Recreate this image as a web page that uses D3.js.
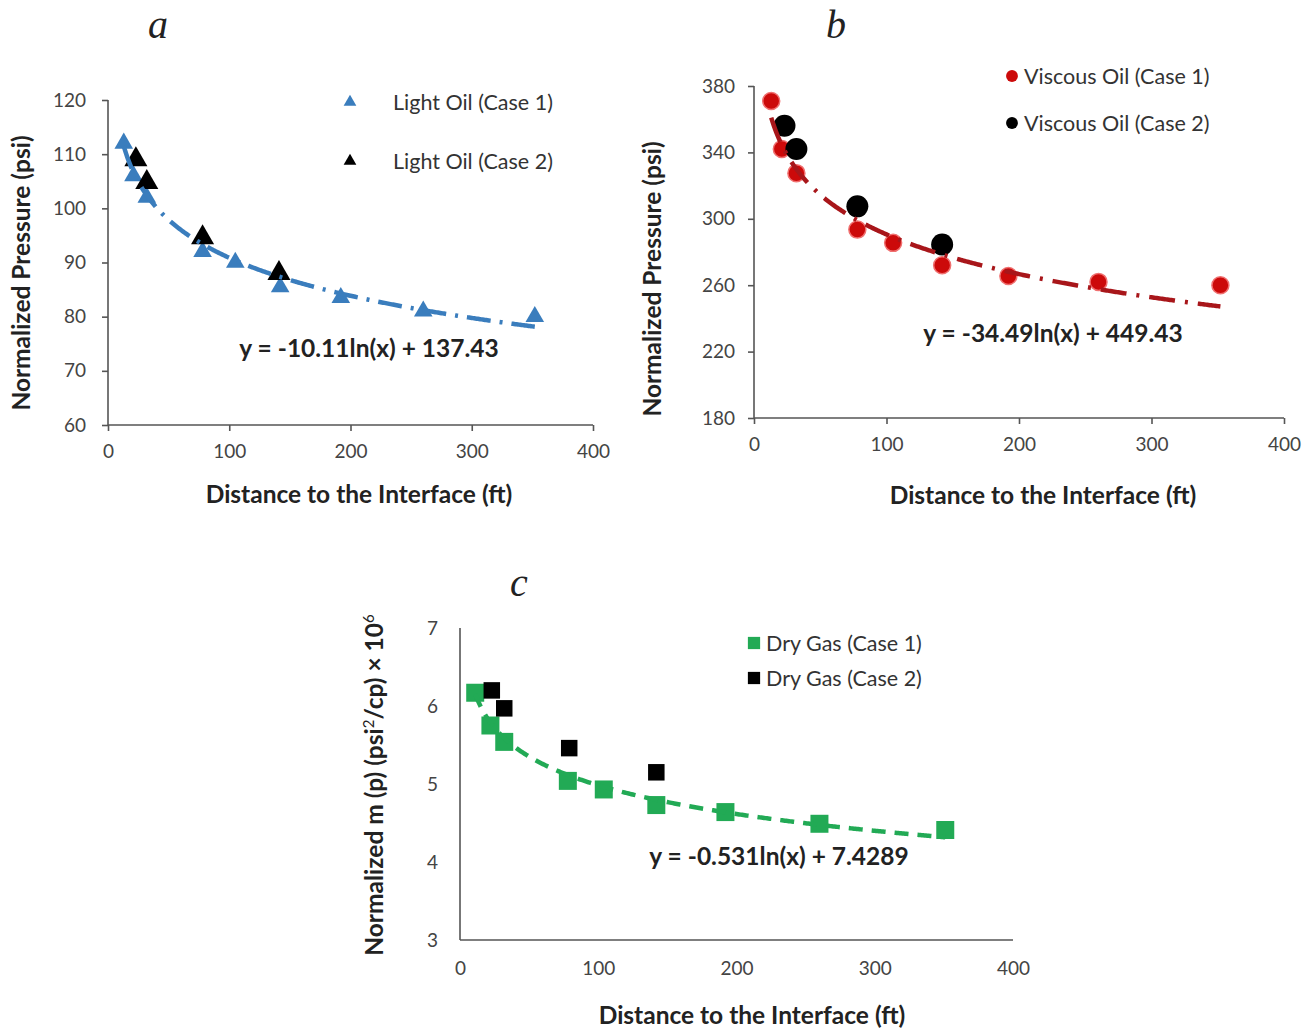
<!DOCTYPE html>
<html>
<head>
<meta charset="utf-8">
<script src="https://cdn.jsdelivr.net/npm/d3@7"></script>
<style>
  html, body { margin: 0; padding: 0; background: #fff; }
  svg { display: block; }
  text { font-family: Lato, "Open Sans", sans-serif; }
</style>
</head>
<body>
<svg id="chart" width="1315" height="1032"></svg>
<script>
// ---------------- DATA ----------------
const xTicks = [0, 100, 200, 300, 400];

// Panel a: Light oil
const aCase1X = [13, 21, 32, 78, 105, 142, 192, 260, 352];
const aCase1Y = [112, 106, 102, 92, 90, 85.5, 83.5, 81, 80];
const aCase2X = [23, 32, 78, 141];
const aCase2Y = [109, 104.8, 94.6, 88];
const aYTicks = [60, 70, 80, 90, 100, 110, 120];
const aFit = [-10.11, 137.43];
const aLegend = ["Light Oil (Case 1)", "Light Oil (Case 2)"];
const aEquation = "y = -10.11ln(x) + 137.43";

// Panel b: Viscous oil
const bCase1X = [13, 21, 32, 78, 105, 142, 192, 260, 352];
const bCase1Y = [371, 342, 327.5, 293.5, 285.5, 272, 265.5, 262, 260];
const bCase2X = [23, 32, 78, 142];
const bCase2Y = [356, 342, 307.5, 284.5];
const bYTicks = [180, 220, 260, 300, 340, 380];
const bFit = [-34.49, 449.43];
const bLegend = ["Viscous Oil (Case 1)", "Viscous Oil (Case 2)"];
const bEquation = "y = -34.49ln(x) + 449.43";

// Panel c: Dry gas
const cCase1X = [11, 22, 32, 78, 104, 142, 192, 260, 351];
const cCase1Y = [6.17, 5.75, 5.54, 5.04, 4.93, 4.73, 4.64, 4.49, 4.41];
const cCase2X = [23, 32, 79, 142];
const cCase2Y = [6.2, 5.97, 5.46, 5.15];
const cYTicks = [3, 4, 5, 6, 7];
const cFit = [-0.531, 7.4289];
const cLegend = ["Dry Gas (Case 1)", "Dry Gas (Case 2)"];
const cEquation = "y = -0.531ln(x) + 7.4289";

const xTitle = "Distance to the Interface (ft)";
const yTitleP = "Normalized Pressure (psi)";

// ---------------- DRAW ----------------
const svg = d3.select("#chart");

function drawPanel(p) {
  const g = svg.append("g");
  const x = d3.scaleLinear().domain([0, 400]).range([p.x0, p.x1]);
  const y = d3.scaleLinear().domain(p.yDomain).range([p.yBot, p.yTop]);

  // axes
  const xAxis = d3.axisBottom(x).tickValues(xTicks).tickFormat(d3.format("d"))
    .tickSize(p.tick).tickPadding(p.xPad).tickSizeOuter(0);
  const yAxis = d3.axisLeft(y).tickValues(p.yTicks).tickFormat(d3.format("d"))
    .tickSize(p.tick).tickPadding(p.yPad).tickSizeOuter(0);
  const gx = g.append("g").attr("transform", `translate(0,${p.yBot})`).call(xAxis);
  const gy = g.append("g").attr("transform", `translate(${p.x0},0)`).call(yAxis);
  [gx, gy].forEach(ax => {
    ax.select(".domain").attr("stroke", "#555").attr("stroke-width", 1.6);
    ax.selectAll(".tick line").attr("stroke", "#555").attr("stroke-width", 1.6);
    ax.selectAll(".tick text").attr("fill", "#444").style("font-size", "19px")
      .style("font-family", "Lato, sans-serif");
  });
  gx.select(".domain").attr("d", `M${p.x0},0H${p.x1}`);
  gy.select(".domain").attr("d", `M0,${p.yBot}V${p.yTop}`);

  // markers
  const drawMarkers = (xs, ys, m) => {
    const sym = d3.symbol().type(m.type).size(m.size);
    g.append("g").selectAll("path").data(xs.map((v, i) => [v, ys[i]])).join("path")
      .attr("d", sym)
      .attr("transform", d => `translate(${x(d[0])},${y(d[1])})`)
      .attr("fill", m.color)
      .attr("stroke", m.halo || "none")
      .attr("stroke-width", m.halo ? 1.5 : 0);
  };
  drawMarkers(p.c1x, p.c1y, p.m1);
  drawMarkers(p.c2x, p.c2y, p.m2);

  // trendline from the displayed fit equation
  const xs = d3.range(d3.min(p.c1x), d3.max(p.c1x) + 0.01, 1);
  const line = d3.line().x(d => x(d)).y(d => y(p.fit[0] * Math.log(d) + p.fit[1]));
  g.append("path").datum(xs).attr("d", line)
    .attr("fill", "none").attr("stroke", p.lineColor)
    .attr("stroke-width", p.lineWidth).attr("stroke-dasharray", p.dash);

  // legend
  p.legend.forEach((t, i) => {
    const m = i === 0 ? p.m1 : p.m2;
    const ly = p.legY[i];
    g.append("path").attr("d", d3.symbol().type(m.type).size(p.legSize)())
      .attr("transform", `translate(${p.legMX},${ly})`).attr("fill", m.color);
    g.append("text").attr("x", p.legTX).attr("y", ly + 7.5).text(t)
      .attr("fill", "#333").style("font-size", "21.5px");
  });

  // equation
  g.append("text").attr("x", p.eqX).attr("y", p.eqY).attr("text-anchor", "middle")
    .text(p.eq).attr("fill", "#222").style("font-size", "24.5px").style("font-weight", "bold");

  // x title
  g.append("text").attr("x", p.xtX).attr("y", p.xtY).attr("text-anchor", "middle")
    .text(xTitle).attr("fill", "#222").style("font-size", "24.5px").style("font-weight", "bold");

  // y title
  const yt = g.append("text").attr("transform", `translate(${p.ytX},${p.ytY}) rotate(-90)`)
    .attr("text-anchor", "middle").attr("fill", "#222")
    .style("font-size", "24.5px").style("font-weight", "bold");
  if (p.yTitleParts) {
    p.yTitleParts.forEach(part => {
      const ts = yt.append("tspan").text(part.t);
      if (part.sup) ts.attr("dy", -9).style("font-size", "15px").style("font-weight", "normal");
      else if (part.after) ts.attr("dy", 9);
    });
  } else {
    yt.text(p.yTitle);
  }

  // panel letter
  g.append("text").attr("x", p.letX).attr("y", p.letY).attr("text-anchor", "middle")
    .text(p.letter).attr("fill", "#222")
    .style("font-family", "'Liberation Serif', 'DejaVu Serif', serif")
    .style("font-style", "italic").style("font-size", "40px");
}

drawPanel({
  x0: 108, x1: 593, yTop: 100, yBot: 425, yDomain: [60, 120], yTicks: aYTicks,
  tick: 6, xPad: 14, yPad: 16,
  c1x: aCase1X, c1y: aCase1Y, c2x: aCase2X, c2y: aCase2Y,
  m1: { type: d3.symbolTriangle, size: 150, color: "#3a7dbd" },
  m2: { type: d3.symbolTriangle, size: 230, color: "#000" },
  fit: aFit, lineColor: "#3a7dbd", lineWidth: 4.5, dash: "24,9,3,9",
  legend: aLegend, legY: [102, 161], legMX: 350, legTX: 393, legSize: 70,
  eq: aEquation, eqX: 369, eqY: 357,
  xtX: 359, xtY: 503, ytX: 30, ytY: 273, yTitle: yTitleP,
  letter: "a", letX: 158, letY: 38
});

drawPanel({
  x0: 754, x1: 1284, yTop: 86, yBot: 418, yDomain: [180, 380], yTicks: bYTicks,
  tick: 6, xPad: 14, yPad: 13,
  c1x: bCase1X, c1y: bCase1Y, c2x: bCase2X, c2y: bCase2Y,
  m1: { type: d3.symbolCircle, size: Math.PI * 8.5 * 8.5, color: "#cc0a0a", halo: "#f07070" },
  m2: { type: d3.symbolCircle, size: Math.PI * 11 * 11, color: "#000" },
  fit: bFit, lineColor: "#a8161a", lineWidth: 4.5, dash: "26,10,3,10",
  legend: bLegend, legY: [76, 123], legMX: 1012, legTX: 1024, legSize: 110,
  eq: bEquation, eqX: 1053, eqY: 342,
  xtX: 1043, xtY: 504, ytX: 661, ytY: 279, yTitle: yTitleP,
  letter: "b", letX: 836, letY: 38
});

drawPanel({
  x0: 460, x1: 1013, yTop: 628, yBot: 940, yDomain: [3, 7], yTicks: cYTicks,
  tick: 0, xPad: 22, yPad: 22,
  c1x: cCase1X, c1y: cCase1Y, c2x: cCase2X, c2y: cCase2Y,
  m1: { type: d3.symbolSquare, size: 18 * 18, color: "#22aa55" },
  m2: { type: d3.symbolSquare, size: 16.5 * 16.5, color: "#000" },
  fit: cFit, lineColor: "#22aa55", lineWidth: 4.5, dash: "14,9",
  legend: cLegend, legY: [643, 678], legMX: 754, legTX: 766, legSize: 150,
  eq: cEquation, eqX: 779, eqY: 865,
  xtX: 752, xtY: 1024, ytX: 383, ytY: 785,
  yTitleParts: [{ t: "Normalized m (p) (psi" }, { t: "2", sup: true }, { t: "/cp) × 10", after: true }, { t: "6", sup: true }],
  letter: "c", letX: 519, letY: 596
});
</script>
</body>
</html>
